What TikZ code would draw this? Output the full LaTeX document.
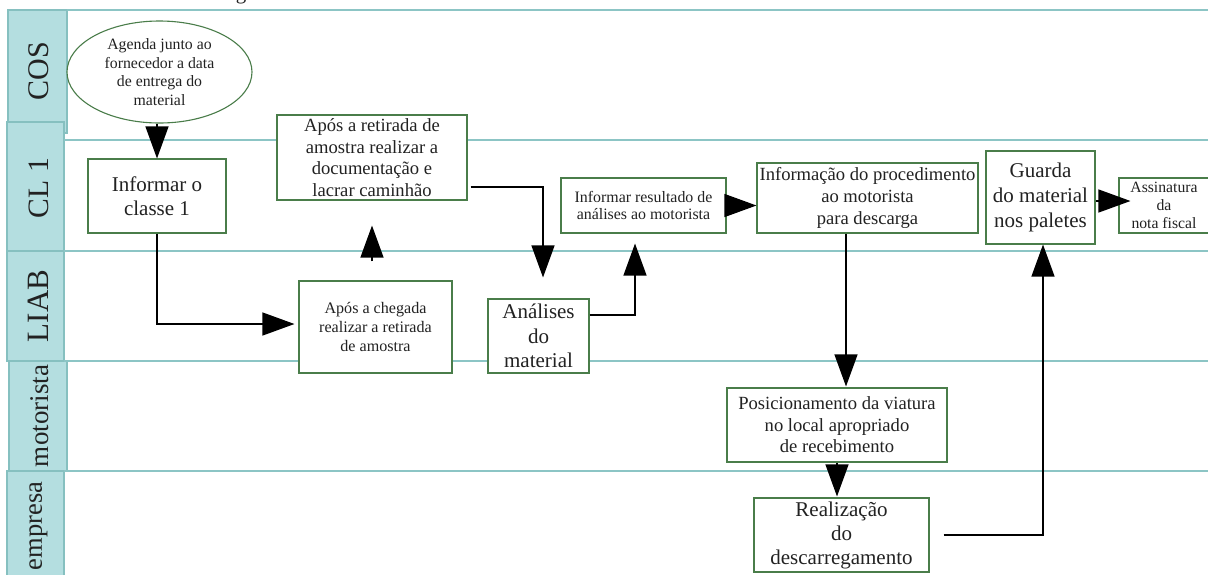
\documentclass[tikz,border=0pt]{standalone}
\usepackage{fontspec}
\setmainfont{Liberation Serif}
\usetikzlibrary{arrows.meta,shapes.geometric}
\definecolor{hdrfill}{HTML}{B4DEE0}
\definecolor{hdrline}{HTML}{86C0C0}
\definecolor{laneline}{HTML}{8CC5C5}
\definecolor{boxline}{HTML}{4A7D4A}
\definecolor{txt}{HTML}{222222}
\begin{document}
\begin{tikzpicture}[x=1pt,y=-1pt,
  hdr/.style={draw=hdrline, fill=hdrfill, line width=1.2pt},
  hdrlabel/.style={rotate=90, text=txt, inner sep=0pt},
  lane/.style={draw=laneline, line width=1.3pt},
  procbox/.style={draw=boxline, line width=1.1pt, fill=white, align=center, text=txt, inner sep=0pt},
  conn/.style={draw=black, line width=1.2pt, -{Triangle[length=32pt,width=23pt]}},
  fsA/.style={font=\fontsize{21}{24.5}\selectfont},
  fsB/.style={font=\fontsize{18.6}{21.6}\selectfont},
  fsC/.style={font=\fontsize{15.8}{18.4}\selectfont},
  fsD/.style={font=\fontsize{16.1}{19}\selectfont}
]
\useasboundingbox (0,0) rectangle (1208,574);
\fill[white] (0,0) rectangle (1208,574);

% fragment of cut-off text at the top
\node[anchor=base, inner sep=0pt, text=txt, fsA] (gfrag) at (241,-1) {g};

% lane headers
\path[hdr] (8,10) rectangle (67,133);
\path[hdr] (7,122) rectangle (64,251);
\path[hdr] (7,251) rectangle (64,361);
\path[hdr] (9,361) rectangle (67,471);
\path[hdr] (7,471) rectangle (64,580);

\node[hdrlabel, font=\fontsize{30}{32}\selectfont] (lcos) at (39,71) {COS};
\node[hdrlabel, font=\fontsize{29.6}{32}\selectfont] (lcl) at (38.5,188) {CL 1};
\node[hdrlabel, font=\fontsize{31}{33}\selectfont] (lliab) at (38.5,306) {LIAB};
\node[hdrlabel, font=\fontsize{27}{30}\selectfont] (lmot) at (40,416) {motorista};
\node[hdrlabel, font=\fontsize{26.5}{29}\selectfont] (lemp) at (38.5,526) {empresa};

% lane lines
\draw[lane] (67,10) -- (1208,10);
\draw[lane] (64,140) -- (1208,140);
\draw[lane] (64,251) -- (1208,251);
\draw[lane] (64,361) -- (1208,361);
\draw[lane] (64,471) -- (1208,471);

% nodes
\node[ellipse, procbox, minimum width=185pt, minimum height=102pt, fsC] (agenda) at (159.5,72)
  {Agenda junto ao\\fornecedor a data\\de entrega do\\material};
\node[procbox, minimum width=138pt, minimum height=74pt, font=\fontsize{21}{24}\selectfont] (informar) at (157,196)
  {Informar o\\classe 1};
\node[procbox, minimum width=190pt, minimum height=85pt, fsB] (retirada) at (372,157.5)
  {Após a retirada de\\amostra realizar a\\documentação e\\lacrar caminhão};
\node[procbox, minimum width=153pt, minimum height=92pt, fsD] (chegada) at (375.5,327)
  {Após a chegada\\realizar a retirada\\de amostra};
\node[procbox, minimum width=101pt, minimum height=74pt, fsA] (analises) at (538.5,336)
  {Análises\\do\\material};
\node[procbox, minimum width=165pt, minimum height=55pt, font=\fontsize{15.9}{17.8}\selectfont] (resultado) at (643.5,205.5)
  {Informar resultado de\\análises ao motorista};
\node[procbox, minimum width=221pt, minimum height=70pt, fsB] (informacao) at (867.5,198)
  {Informação do procedimento\\ao motorista\\para descarga};
\node[procbox, minimum width=109pt, minimum height=93pt, font=\fontsize{21}{25}\selectfont] (guarda) at (1040.5,197.5)
  {Guarda\\do material\\nos paletes};
\node[procbox, minimum width=90pt, minimum height=55pt, font=\fontsize{15.7}{18.3}\selectfont] (assinatura) at (1164,205.5)
  {Assinatura\\da\\nota fiscal};
\node[procbox, minimum width=220pt, minimum height=74pt, fsB] (posicionamento) at (837,425)
  {Posicionamento da viatura\\no local apropriado\\de recebimento};
\node[procbox, minimum width=175pt, minimum height=74pt, font=\fontsize{21}{24}\selectfont] (realizacao) at (841.5,535)
  {Realização\\do\\descarregamento};

% connectors
\draw[conn] (informar.north |- agenda.south) -- (informar.north);
\draw[conn, shorten >=4pt] (informar.south) |- ([yshift=3pt]chegada.west);
\draw[conn, shorten <=19pt, shorten >=25pt] (retirada.south |- chegada.north) -- (retirada.south);
\draw[conn, shorten <=3pt, shorten >=21pt] ([yshift=-29.5pt]retirada.east) -| ([xshift=4.5pt]analises.north);
\draw[conn, shorten >=10pt] ([yshift=21pt]analises.east) -| ([xshift=-8.5pt]resultado.south);
\draw[conn] (resultado.east) -- (resultado.east -| informacao.west);
\draw[conn, shorten >=1pt] ([xshift=-21.5pt]informacao.south) -- ([xshift=-21.5pt]informacao.south |- posicionamento.north);
\draw[conn, shorten >=1pt] (posicionamento.south) -- (posicionamento.south |- realizacao.north);
\draw[conn, shorten <=14pt] (realizacao.east) -| ([xshift=2.5pt]guarda.south);
\draw[conn, shorten >=-12pt] ([yshift=-3.5pt]guarda.east) -- ([yshift=-3.5pt]guarda.east -| assinatura.west);
\end{tikzpicture}
\end{document}
